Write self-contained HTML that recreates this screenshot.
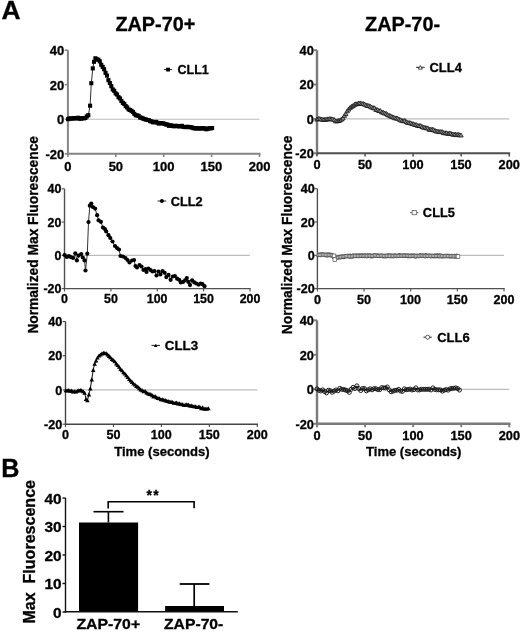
<!DOCTYPE html>
<html><head><meta charset="utf-8"><style>
html,body{margin:0;padding:0;background:#fff;}
body{width:520px;height:633px;overflow:hidden;}
svg{display:block;filter:grayscale(1);}
text{font-family:"Liberation Sans",sans-serif;font-weight:bold;stroke:#000;stroke-width:0.3px;}
</style></head><body>
<svg width="520" height="633" viewBox="0 0 520 633">
<rect width="520" height="633" fill="#fff"/>
<text font-family="Liberation Sans" font-weight="bold" font-size="25.87" transform="translate(1.44,19.00) scale(1.020,1)" fill="#000" >A</text>
<text font-family="Liberation Sans" font-weight="bold" font-size="26.16" transform="translate(1.21,477.10) scale(0.965,1)" fill="#000" >B</text>
<text font-family="Liberation Sans" font-weight="bold" font-size="19.77" transform="translate(115.41,30.81) scale(1.004,1)" fill="#000" >ZAP-70+</text>
<text font-family="Liberation Sans" font-weight="bold" font-size="19.77" transform="translate(365.01,30.81) scale(1.006,1)" fill="#000" >ZAP-70-</text>
<text font-family="Liberation Sans" font-weight="bold" font-size="14.39" transform="translate(37.90,333.62) rotate(-90) scale(0.959,1)">Normalized&#160;Max&#160;Fluorescence</text>
<text font-family="Liberation Sans" font-weight="bold" font-size="14.39" transform="translate(291.50,334.13) rotate(-90) scale(0.963,1)">Normalized&#160;Max&#160;Fluorescence</text>
<text font-family="Liberation Sans" font-weight="bold" font-size="13.20" transform="translate(114.25,456.00) scale(0.989,1)">Time&#160;(seconds)</text>
<text font-family="Liberation Sans" font-weight="bold" font-size="13.20" transform="translate(366.05,456.00) scale(0.989,1)">Time&#160;(seconds)</text>
<line x1="67.90" y1="119.27" x2="259.50" y2="119.27" stroke="#bdbdbd" stroke-width="1.2" stroke-linecap="butt"/>
<line x1="67.90" y1="50.20" x2="67.90" y2="154.80" stroke="#858585" stroke-width="2.0" stroke-linecap="butt"/>
<line x1="66.90" y1="153.80" x2="260.50" y2="153.80" stroke="#858585" stroke-width="2.0" stroke-linecap="butt"/>
<line x1="64.70" y1="50.20" x2="67.90" y2="50.20" stroke="#858585" stroke-width="1.6" stroke-linecap="butt"/>
<text font-family="Liberation Sans" font-weight="bold" font-size="13.00" transform="translate(49.87,54.98) scale(1.000,1)">40</text>
<line x1="64.70" y1="84.73" x2="67.90" y2="84.73" stroke="#858585" stroke-width="1.6" stroke-linecap="butt"/>
<text font-family="Liberation Sans" font-weight="bold" font-size="13.00" transform="translate(49.87,89.51) scale(1.000,1)">20</text>
<line x1="64.70" y1="119.27" x2="67.90" y2="119.27" stroke="#858585" stroke-width="1.6" stroke-linecap="butt"/>
<text font-family="Liberation Sans" font-weight="bold" font-size="13.00" transform="translate(57.10,124.04) scale(1.000,1)">0</text>
<line x1="64.70" y1="153.80" x2="67.90" y2="153.80" stroke="#858585" stroke-width="1.6" stroke-linecap="butt"/>
<text font-family="Liberation Sans" font-weight="bold" font-size="13.00" transform="translate(45.54,158.58) scale(1.000,1)">-20</text>
<line x1="67.90" y1="153.80" x2="67.90" y2="157.00" stroke="#858585" stroke-width="1.6" stroke-linecap="butt"/>
<text font-family="Liberation Sans" font-weight="bold" font-size="13.00" transform="translate(64.29,171.08) scale(1.000,1)">0</text>
<line x1="115.80" y1="153.80" x2="115.80" y2="157.00" stroke="#858585" stroke-width="1.6" stroke-linecap="butt"/>
<text font-family="Liberation Sans" font-weight="bold" font-size="13.00" transform="translate(108.64,171.08) scale(1.000,1)">50</text>
<line x1="163.70" y1="153.80" x2="163.70" y2="157.00" stroke="#858585" stroke-width="1.6" stroke-linecap="butt"/>
<text font-family="Liberation Sans" font-weight="bold" font-size="13.00" transform="translate(152.71,171.08) scale(1.000,1)">100</text>
<line x1="211.60" y1="153.80" x2="211.60" y2="157.00" stroke="#858585" stroke-width="1.6" stroke-linecap="butt"/>
<text font-family="Liberation Sans" font-weight="bold" font-size="13.00" transform="translate(200.61,171.08) scale(1.000,1)">150</text>
<line x1="259.50" y1="153.80" x2="259.50" y2="157.00" stroke="#858585" stroke-width="1.6" stroke-linecap="butt"/>
<text font-family="Liberation Sans" font-weight="bold" font-size="13.00" transform="translate(248.70,171.08) scale(1.000,1)">200</text>
<line x1="64.50" y1="255.33" x2="250.00" y2="255.33" stroke="#bdbdbd" stroke-width="1.2" stroke-linecap="butt"/>
<line x1="64.50" y1="188.80" x2="64.50" y2="289.30" stroke="#505050" stroke-width="1.4" stroke-linecap="butt"/>
<line x1="63.80" y1="288.60" x2="250.70" y2="288.60" stroke="#505050" stroke-width="1.4" stroke-linecap="butt"/>
<line x1="61.60" y1="188.80" x2="64.50" y2="188.80" stroke="#505050" stroke-width="1.1199999999999999" stroke-linecap="butt"/>
<text font-family="Liberation Sans" font-weight="bold" font-size="12.40" transform="translate(47.52,193.37) scale(1.000,1)">40</text>
<line x1="61.60" y1="222.07" x2="64.50" y2="222.07" stroke="#505050" stroke-width="1.1199999999999999" stroke-linecap="butt"/>
<text font-family="Liberation Sans" font-weight="bold" font-size="12.40" transform="translate(47.52,226.64) scale(1.000,1)">20</text>
<line x1="61.60" y1="255.33" x2="64.50" y2="255.33" stroke="#505050" stroke-width="1.1199999999999999" stroke-linecap="butt"/>
<text font-family="Liberation Sans" font-weight="bold" font-size="12.40" transform="translate(54.41,259.90) scale(1.000,1)">0</text>
<line x1="61.60" y1="288.60" x2="64.50" y2="288.60" stroke="#505050" stroke-width="1.1199999999999999" stroke-linecap="butt"/>
<text font-family="Liberation Sans" font-weight="bold" font-size="12.40" transform="translate(43.39,293.17) scale(1.000,1)">-20</text>
<line x1="64.50" y1="288.60" x2="64.50" y2="291.50" stroke="#505050" stroke-width="1.1199999999999999" stroke-linecap="butt"/>
<text font-family="Liberation Sans" font-weight="bold" font-size="12.40" transform="translate(61.06,303.36) scale(1.000,1)">0</text>
<line x1="110.88" y1="288.60" x2="110.88" y2="291.50" stroke="#505050" stroke-width="1.1199999999999999" stroke-linecap="butt"/>
<text font-family="Liberation Sans" font-weight="bold" font-size="12.40" transform="translate(104.04,303.36) scale(1.000,1)">50</text>
<line x1="157.25" y1="288.60" x2="157.25" y2="291.50" stroke="#505050" stroke-width="1.1199999999999999" stroke-linecap="butt"/>
<text font-family="Liberation Sans" font-weight="bold" font-size="12.40" transform="translate(146.77,303.36) scale(1.000,1)">100</text>
<line x1="203.62" y1="288.60" x2="203.62" y2="291.50" stroke="#505050" stroke-width="1.1199999999999999" stroke-linecap="butt"/>
<text font-family="Liberation Sans" font-weight="bold" font-size="12.40" transform="translate(193.14,303.36) scale(1.000,1)">150</text>
<line x1="250.00" y1="288.60" x2="250.00" y2="291.50" stroke="#505050" stroke-width="1.1199999999999999" stroke-linecap="butt"/>
<text font-family="Liberation Sans" font-weight="bold" font-size="12.40" transform="translate(239.69,303.36) scale(1.000,1)">200</text>
<line x1="65.50" y1="389.97" x2="257.30" y2="389.97" stroke="#bdbdbd" stroke-width="1.2" stroke-linecap="butt"/>
<line x1="65.50" y1="321.50" x2="65.50" y2="424.90" stroke="#454545" stroke-width="1.4" stroke-linecap="butt"/>
<line x1="64.80" y1="424.20" x2="258.00" y2="424.20" stroke="#454545" stroke-width="1.4" stroke-linecap="butt"/>
<line x1="62.60" y1="321.50" x2="65.50" y2="321.50" stroke="#454545" stroke-width="1.1199999999999999" stroke-linecap="butt"/>
<text font-family="Liberation Sans" font-weight="bold" font-size="12.60" transform="translate(48.20,326.14) scale(1.000,1)">40</text>
<line x1="62.60" y1="355.73" x2="65.50" y2="355.73" stroke="#454545" stroke-width="1.1199999999999999" stroke-linecap="butt"/>
<text font-family="Liberation Sans" font-weight="bold" font-size="12.60" transform="translate(48.20,360.37) scale(1.000,1)">20</text>
<line x1="62.60" y1="389.97" x2="65.50" y2="389.97" stroke="#454545" stroke-width="1.1199999999999999" stroke-linecap="butt"/>
<text font-family="Liberation Sans" font-weight="bold" font-size="12.60" transform="translate(55.21,394.60) scale(1.000,1)">0</text>
<line x1="62.60" y1="424.20" x2="65.50" y2="424.20" stroke="#454545" stroke-width="1.1199999999999999" stroke-linecap="butt"/>
<text font-family="Liberation Sans" font-weight="bold" font-size="12.60" transform="translate(44.01,428.84) scale(1.000,1)">-20</text>
<line x1="65.50" y1="424.20" x2="65.50" y2="427.10" stroke="#454545" stroke-width="1.1199999999999999" stroke-linecap="butt"/>
<text font-family="Liberation Sans" font-weight="bold" font-size="12.60" transform="translate(62.01,439.40) scale(1.000,1)">0</text>
<line x1="113.45" y1="424.20" x2="113.45" y2="427.10" stroke="#454545" stroke-width="1.1199999999999999" stroke-linecap="butt"/>
<text font-family="Liberation Sans" font-weight="bold" font-size="12.60" transform="translate(106.51,439.40) scale(1.000,1)">50</text>
<line x1="161.40" y1="424.20" x2="161.40" y2="427.10" stroke="#454545" stroke-width="1.1199999999999999" stroke-linecap="butt"/>
<text font-family="Liberation Sans" font-weight="bold" font-size="12.60" transform="translate(150.75,439.40) scale(1.000,1)">100</text>
<line x1="209.35" y1="424.20" x2="209.35" y2="427.10" stroke="#454545" stroke-width="1.1199999999999999" stroke-linecap="butt"/>
<text font-family="Liberation Sans" font-weight="bold" font-size="12.60" transform="translate(198.70,439.40) scale(1.000,1)">150</text>
<line x1="257.30" y1="424.20" x2="257.30" y2="427.10" stroke="#454545" stroke-width="1.1199999999999999" stroke-linecap="butt"/>
<text font-family="Liberation Sans" font-weight="bold" font-size="12.60" transform="translate(246.83,439.40) scale(1.000,1)">200</text>
<line x1="317.00" y1="118.93" x2="509.20" y2="118.93" stroke="#bdbdbd" stroke-width="1.2" stroke-linecap="butt"/>
<line x1="317.00" y1="50.20" x2="317.00" y2="154.50" stroke="#7a7a7a" stroke-width="2.4" stroke-linecap="butt"/>
<line x1="315.80" y1="153.30" x2="510.15" y2="153.30" stroke="#4e4e4e" stroke-width="1.9" stroke-linecap="butt"/>
<line x1="313.60" y1="50.20" x2="317.00" y2="50.20" stroke="#7a7a7a" stroke-width="1.92" stroke-linecap="butt"/>
<text font-family="Liberation Sans" font-weight="bold" font-size="12.80" transform="translate(299.59,54.91) scale(1.000,1)">40</text>
<line x1="313.60" y1="84.57" x2="317.00" y2="84.57" stroke="#7a7a7a" stroke-width="1.92" stroke-linecap="butt"/>
<text font-family="Liberation Sans" font-weight="bold" font-size="12.80" transform="translate(299.59,89.27) scale(1.000,1)">20</text>
<line x1="313.60" y1="118.93" x2="317.00" y2="118.93" stroke="#7a7a7a" stroke-width="1.92" stroke-linecap="butt"/>
<text font-family="Liberation Sans" font-weight="bold" font-size="12.80" transform="translate(306.71,123.64) scale(1.000,1)">0</text>
<line x1="313.60" y1="153.30" x2="317.00" y2="153.30" stroke="#7a7a7a" stroke-width="1.92" stroke-linecap="butt"/>
<text font-family="Liberation Sans" font-weight="bold" font-size="12.80" transform="translate(295.32,158.01) scale(1.000,1)">-20</text>
<line x1="317.00" y1="153.30" x2="317.00" y2="156.45" stroke="#4e4e4e" stroke-width="1.52" stroke-linecap="butt"/>
<text font-family="Liberation Sans" font-weight="bold" font-size="12.80" transform="translate(313.45,168.94) scale(1.000,1)">0</text>
<line x1="365.05" y1="153.30" x2="365.05" y2="156.45" stroke="#4e4e4e" stroke-width="1.52" stroke-linecap="butt"/>
<text font-family="Liberation Sans" font-weight="bold" font-size="12.80" transform="translate(358.00,168.94) scale(1.000,1)">50</text>
<line x1="413.10" y1="153.30" x2="413.10" y2="156.45" stroke="#4e4e4e" stroke-width="1.52" stroke-linecap="butt"/>
<text font-family="Liberation Sans" font-weight="bold" font-size="12.80" transform="translate(402.28,168.94) scale(1.000,1)">100</text>
<line x1="461.15" y1="153.30" x2="461.15" y2="156.45" stroke="#4e4e4e" stroke-width="1.52" stroke-linecap="butt"/>
<text font-family="Liberation Sans" font-weight="bold" font-size="12.80" transform="translate(450.33,168.94) scale(1.000,1)">150</text>
<line x1="509.20" y1="153.30" x2="509.20" y2="156.45" stroke="#4e4e4e" stroke-width="1.52" stroke-linecap="butt"/>
<text font-family="Liberation Sans" font-weight="bold" font-size="12.80" transform="translate(498.56,168.94) scale(1.000,1)">200</text>
<line x1="317.40" y1="255.30" x2="504.00" y2="255.30" stroke="#bdbdbd" stroke-width="1.2" stroke-linecap="butt"/>
<line x1="317.40" y1="188.70" x2="317.40" y2="289.30" stroke="#505050" stroke-width="1.4" stroke-linecap="butt"/>
<line x1="316.70" y1="288.60" x2="504.70" y2="288.60" stroke="#505050" stroke-width="1.4" stroke-linecap="butt"/>
<line x1="314.50" y1="188.70" x2="317.40" y2="188.70" stroke="#505050" stroke-width="1.1199999999999999" stroke-linecap="butt"/>
<text font-family="Liberation Sans" font-weight="bold" font-size="12.60" transform="translate(300.70,193.34) scale(1.000,1)">40</text>
<line x1="314.50" y1="222.00" x2="317.40" y2="222.00" stroke="#505050" stroke-width="1.1199999999999999" stroke-linecap="butt"/>
<text font-family="Liberation Sans" font-weight="bold" font-size="12.60" transform="translate(300.70,226.64) scale(1.000,1)">20</text>
<line x1="314.50" y1="255.30" x2="317.40" y2="255.30" stroke="#505050" stroke-width="1.1199999999999999" stroke-linecap="butt"/>
<text font-family="Liberation Sans" font-weight="bold" font-size="12.60" transform="translate(307.71,259.94) scale(1.000,1)">0</text>
<line x1="314.50" y1="288.60" x2="317.40" y2="288.60" stroke="#505050" stroke-width="1.1199999999999999" stroke-linecap="butt"/>
<text font-family="Liberation Sans" font-weight="bold" font-size="12.60" transform="translate(296.51,293.24) scale(1.000,1)">-20</text>
<line x1="317.40" y1="288.60" x2="317.40" y2="291.50" stroke="#505050" stroke-width="1.1199999999999999" stroke-linecap="butt"/>
<text font-family="Liberation Sans" font-weight="bold" font-size="12.60" transform="translate(313.91,303.60) scale(1.000,1)">0</text>
<line x1="364.05" y1="288.60" x2="364.05" y2="291.50" stroke="#505050" stroke-width="1.1199999999999999" stroke-linecap="butt"/>
<text font-family="Liberation Sans" font-weight="bold" font-size="12.60" transform="translate(357.11,303.60) scale(1.000,1)">50</text>
<line x1="410.70" y1="288.60" x2="410.70" y2="291.50" stroke="#505050" stroke-width="1.1199999999999999" stroke-linecap="butt"/>
<text font-family="Liberation Sans" font-weight="bold" font-size="12.60" transform="translate(400.05,303.60) scale(1.000,1)">100</text>
<line x1="457.35" y1="288.60" x2="457.35" y2="291.50" stroke="#505050" stroke-width="1.1199999999999999" stroke-linecap="butt"/>
<text font-family="Liberation Sans" font-weight="bold" font-size="12.60" transform="translate(446.70,303.60) scale(1.000,1)">150</text>
<line x1="504.00" y1="288.60" x2="504.00" y2="291.50" stroke="#505050" stroke-width="1.1199999999999999" stroke-linecap="butt"/>
<text font-family="Liberation Sans" font-weight="bold" font-size="12.60" transform="translate(493.53,303.60) scale(1.000,1)">200</text>
<line x1="317.00" y1="389.30" x2="509.30" y2="389.30" stroke="#bdbdbd" stroke-width="1.2" stroke-linecap="butt"/>
<line x1="317.00" y1="320.30" x2="317.00" y2="425.00" stroke="#7a7a7a" stroke-width="2.4" stroke-linecap="butt"/>
<line x1="315.80" y1="423.80" x2="510.50" y2="423.80" stroke="#7a7a7a" stroke-width="2.4" stroke-linecap="butt"/>
<line x1="313.60" y1="320.30" x2="317.00" y2="320.30" stroke="#7a7a7a" stroke-width="1.92" stroke-linecap="butt"/>
<text font-family="Liberation Sans" font-weight="bold" font-size="12.80" transform="translate(299.69,325.01) scale(1.000,1)">40</text>
<line x1="313.60" y1="354.80" x2="317.00" y2="354.80" stroke="#7a7a7a" stroke-width="1.92" stroke-linecap="butt"/>
<text font-family="Liberation Sans" font-weight="bold" font-size="12.80" transform="translate(299.69,359.51) scale(1.000,1)">20</text>
<line x1="313.60" y1="389.30" x2="317.00" y2="389.30" stroke="#7a7a7a" stroke-width="1.92" stroke-linecap="butt"/>
<text font-family="Liberation Sans" font-weight="bold" font-size="12.80" transform="translate(306.81,394.01) scale(1.000,1)">0</text>
<line x1="313.60" y1="423.80" x2="317.00" y2="423.80" stroke="#7a7a7a" stroke-width="1.92" stroke-linecap="butt"/>
<text font-family="Liberation Sans" font-weight="bold" font-size="12.80" transform="translate(295.42,428.51) scale(1.000,1)">-20</text>
<line x1="317.00" y1="423.80" x2="317.00" y2="427.20" stroke="#7a7a7a" stroke-width="1.92" stroke-linecap="butt"/>
<text font-family="Liberation Sans" font-weight="bold" font-size="12.80" transform="translate(313.45,439.54) scale(1.000,1)">0</text>
<line x1="365.07" y1="423.80" x2="365.07" y2="427.20" stroke="#7a7a7a" stroke-width="1.92" stroke-linecap="butt"/>
<text font-family="Liberation Sans" font-weight="bold" font-size="12.80" transform="translate(358.02,439.54) scale(1.000,1)">50</text>
<line x1="413.15" y1="423.80" x2="413.15" y2="427.20" stroke="#7a7a7a" stroke-width="1.92" stroke-linecap="butt"/>
<text font-family="Liberation Sans" font-weight="bold" font-size="12.80" transform="translate(402.33,439.54) scale(1.000,1)">100</text>
<line x1="461.23" y1="423.80" x2="461.23" y2="427.20" stroke="#7a7a7a" stroke-width="1.92" stroke-linecap="butt"/>
<text font-family="Liberation Sans" font-weight="bold" font-size="12.80" transform="translate(450.41,439.54) scale(1.000,1)">150</text>
<line x1="509.30" y1="423.80" x2="509.30" y2="427.20" stroke="#7a7a7a" stroke-width="1.92" stroke-linecap="butt"/>
<text font-family="Liberation Sans" font-weight="bold" font-size="12.80" transform="translate(498.66,439.54) scale(1.000,1)">200</text>
<polyline points="68.10,119.19 69.54,118.38 70.98,118.50 72.42,118.58 73.86,118.10 75.30,118.33 76.74,118.31 78.18,117.71 79.62,118.70 81.06,118.57 82.50,118.16 83.94,118.33 85.38,117.97 86.82,116.42 88.30,115.20 90.10,105.70 91.30,83.20 92.80,68.40 94.00,61.80 95.40,58.30 96.90,59.38 98.34,59.71 99.78,61.30 101.22,64.75 102.66,66.90 104.10,69.20 105.54,72.85 106.98,75.62 108.42,80.21 109.86,83.05 111.30,86.21 112.74,89.42 114.18,90.80 115.62,93.38 117.06,94.52 118.50,97.17 119.94,98.42 121.38,100.92 122.82,102.84 124.26,103.91 125.70,106.11 127.14,107.43 128.58,109.38 130.02,110.00 131.46,110.79 132.90,111.95 134.34,113.82 135.78,115.28 137.22,115.38 138.66,115.91 140.10,117.56 141.54,117.77 142.98,118.52 144.42,119.10 145.86,119.49 147.30,119.96 148.74,120.07 150.18,121.19 151.62,121.42 153.06,122.31 154.50,122.19 155.94,121.87 157.38,122.72 158.82,123.56 160.26,123.05 161.70,123.17 163.14,123.42 164.58,123.84 166.02,124.47 167.46,124.52 168.90,125.82 170.34,125.30 171.78,125.54 173.22,126.11 174.66,126.23 176.10,125.74 177.54,126.08 178.98,126.38 180.42,126.22 181.86,125.82 183.30,126.83 184.74,127.06 186.18,127.05 187.62,126.73 189.06,127.13 190.50,127.15 191.94,127.42 193.38,128.15 194.82,128.40 196.26,128.27 197.70,128.39 199.14,128.50 200.58,128.31 202.02,128.35 203.46,128.20 204.90,128.48 206.34,129.27 207.78,128.76 209.22,128.32 210.66,128.25 212.10,128.07" fill="none" stroke="#333" stroke-width="1.0" stroke-linejoin="round"/>
<g fill="#000" stroke="none" stroke-width="0"><rect x="66.05" y="117.14" width="4.10" height="4.10"/><rect x="67.49" y="116.33" width="4.10" height="4.10"/><rect x="68.93" y="116.45" width="4.10" height="4.10"/><rect x="70.37" y="116.53" width="4.10" height="4.10"/><rect x="71.81" y="116.05" width="4.10" height="4.10"/><rect x="73.25" y="116.28" width="4.10" height="4.10"/><rect x="74.69" y="116.26" width="4.10" height="4.10"/><rect x="76.13" y="115.66" width="4.10" height="4.10"/><rect x="77.57" y="116.65" width="4.10" height="4.10"/><rect x="79.01" y="116.52" width="4.10" height="4.10"/><rect x="80.45" y="116.11" width="4.10" height="4.10"/><rect x="81.89" y="116.28" width="4.10" height="4.10"/><rect x="83.33" y="115.92" width="4.10" height="4.10"/><rect x="84.77" y="114.37" width="4.10" height="4.10"/><rect x="86.25" y="113.15" width="4.10" height="4.10"/><rect x="88.05" y="103.65" width="4.10" height="4.10"/><rect x="89.25" y="81.15" width="4.10" height="4.10"/><rect x="90.75" y="66.35" width="4.10" height="4.10"/><rect x="91.95" y="59.75" width="4.10" height="4.10"/><rect x="93.35" y="56.25" width="4.10" height="4.10"/><rect x="94.85" y="57.33" width="4.10" height="4.10"/><rect x="96.29" y="57.66" width="4.10" height="4.10"/><rect x="97.73" y="59.25" width="4.10" height="4.10"/><rect x="99.17" y="62.70" width="4.10" height="4.10"/><rect x="100.61" y="64.85" width="4.10" height="4.10"/><rect x="102.05" y="67.15" width="4.10" height="4.10"/><rect x="103.49" y="70.80" width="4.10" height="4.10"/><rect x="104.93" y="73.57" width="4.10" height="4.10"/><rect x="106.37" y="78.16" width="4.10" height="4.10"/><rect x="107.81" y="81.00" width="4.10" height="4.10"/><rect x="109.25" y="84.16" width="4.10" height="4.10"/><rect x="110.69" y="87.37" width="4.10" height="4.10"/><rect x="112.13" y="88.75" width="4.10" height="4.10"/><rect x="113.57" y="91.33" width="4.10" height="4.10"/><rect x="115.01" y="92.47" width="4.10" height="4.10"/><rect x="116.45" y="95.12" width="4.10" height="4.10"/><rect x="117.89" y="96.37" width="4.10" height="4.10"/><rect x="119.33" y="98.87" width="4.10" height="4.10"/><rect x="120.77" y="100.79" width="4.10" height="4.10"/><rect x="122.21" y="101.86" width="4.10" height="4.10"/><rect x="123.65" y="104.06" width="4.10" height="4.10"/><rect x="125.09" y="105.38" width="4.10" height="4.10"/><rect x="126.53" y="107.33" width="4.10" height="4.10"/><rect x="127.97" y="107.95" width="4.10" height="4.10"/><rect x="129.41" y="108.74" width="4.10" height="4.10"/><rect x="130.85" y="109.90" width="4.10" height="4.10"/><rect x="132.29" y="111.77" width="4.10" height="4.10"/><rect x="133.73" y="113.23" width="4.10" height="4.10"/><rect x="135.17" y="113.33" width="4.10" height="4.10"/><rect x="136.61" y="113.86" width="4.10" height="4.10"/><rect x="138.05" y="115.51" width="4.10" height="4.10"/><rect x="139.49" y="115.72" width="4.10" height="4.10"/><rect x="140.93" y="116.47" width="4.10" height="4.10"/><rect x="142.37" y="117.05" width="4.10" height="4.10"/><rect x="143.81" y="117.44" width="4.10" height="4.10"/><rect x="145.25" y="117.91" width="4.10" height="4.10"/><rect x="146.69" y="118.02" width="4.10" height="4.10"/><rect x="148.13" y="119.14" width="4.10" height="4.10"/><rect x="149.57" y="119.37" width="4.10" height="4.10"/><rect x="151.01" y="120.26" width="4.10" height="4.10"/><rect x="152.45" y="120.14" width="4.10" height="4.10"/><rect x="153.89" y="119.82" width="4.10" height="4.10"/><rect x="155.33" y="120.67" width="4.10" height="4.10"/><rect x="156.77" y="121.51" width="4.10" height="4.10"/><rect x="158.21" y="121.00" width="4.10" height="4.10"/><rect x="159.65" y="121.12" width="4.10" height="4.10"/><rect x="161.09" y="121.37" width="4.10" height="4.10"/><rect x="162.53" y="121.79" width="4.10" height="4.10"/><rect x="163.97" y="122.42" width="4.10" height="4.10"/><rect x="165.41" y="122.47" width="4.10" height="4.10"/><rect x="166.85" y="123.77" width="4.10" height="4.10"/><rect x="168.29" y="123.25" width="4.10" height="4.10"/><rect x="169.73" y="123.49" width="4.10" height="4.10"/><rect x="171.17" y="124.06" width="4.10" height="4.10"/><rect x="172.61" y="124.18" width="4.10" height="4.10"/><rect x="174.05" y="123.69" width="4.10" height="4.10"/><rect x="175.49" y="124.03" width="4.10" height="4.10"/><rect x="176.93" y="124.33" width="4.10" height="4.10"/><rect x="178.37" y="124.17" width="4.10" height="4.10"/><rect x="179.81" y="123.77" width="4.10" height="4.10"/><rect x="181.25" y="124.78" width="4.10" height="4.10"/><rect x="182.69" y="125.01" width="4.10" height="4.10"/><rect x="184.13" y="125.00" width="4.10" height="4.10"/><rect x="185.57" y="124.68" width="4.10" height="4.10"/><rect x="187.01" y="125.08" width="4.10" height="4.10"/><rect x="188.45" y="125.10" width="4.10" height="4.10"/><rect x="189.89" y="125.37" width="4.10" height="4.10"/><rect x="191.33" y="126.10" width="4.10" height="4.10"/><rect x="192.77" y="126.35" width="4.10" height="4.10"/><rect x="194.21" y="126.22" width="4.10" height="4.10"/><rect x="195.65" y="126.34" width="4.10" height="4.10"/><rect x="197.09" y="126.45" width="4.10" height="4.10"/><rect x="198.53" y="126.26" width="4.10" height="4.10"/><rect x="199.97" y="126.30" width="4.10" height="4.10"/><rect x="201.41" y="126.15" width="4.10" height="4.10"/><rect x="202.85" y="126.43" width="4.10" height="4.10"/><rect x="204.29" y="127.22" width="4.10" height="4.10"/><rect x="205.73" y="126.71" width="4.10" height="4.10"/><rect x="207.17" y="126.27" width="4.10" height="4.10"/><rect x="208.61" y="126.20" width="4.10" height="4.10"/><rect x="210.05" y="126.02" width="4.10" height="4.10"/></g>
<polyline points="64.60,255.00 66.80,256.90 68.90,256.20 70.80,257.10 73.10,257.90 75.30,253.30 76.90,260.40 78.70,255.60 81.20,254.10 82.80,257.50 84.50,260.40 85.50,270.50 87.30,253.70 88.50,222.10 89.80,205.70 91.30,203.60 92.90,207.00 95.10,208.60 97.10,215.20 98.60,220.30 100.90,221.80 103.00,227.60 104.90,229.10 106.20,231.40 108.50,235.20 110.30,238.00 112.50,241.50 115.00,246.00 117.00,248.00 119.00,249.50 120.50,256.00 123.00,256.50 125.50,258.00 127.50,260.00 129.50,262.50 132.00,260.50 134.00,260.00 135.50,266.00 137.00,267.50 139.50,265.00 141.50,266.50 143.50,270.00 145.50,269.00 146.50,272.00 148.50,268.50 150.50,270.00 152.50,271.50 154.50,271.00 156.50,275.50 158.50,271.50 160.40,274.40 162.50,271.10 164.70,272.80 166.30,277.10 168.50,274.90 170.60,279.80 172.80,276.50 174.90,276.00 177.10,278.70 179.20,279.80 180.80,282.40 183.00,281.90 185.10,280.30 186.80,278.10 188.40,281.90 190.00,285.10 192.10,280.30 194.30,282.40 196.40,283.50 198.60,284.60 200.70,283.50 202.40,284.10 204.50,286.20" fill="none" stroke="#333" stroke-width="1.0" stroke-linejoin="round"/>
<g fill="#000" stroke="none" stroke-width="0"><circle cx="64.60" cy="255.00" r="2.10"/><circle cx="66.80" cy="256.90" r="2.10"/><circle cx="68.90" cy="256.20" r="2.10"/><circle cx="70.80" cy="257.10" r="2.10"/><circle cx="73.10" cy="257.90" r="2.10"/><circle cx="75.30" cy="253.30" r="2.10"/><circle cx="76.90" cy="260.40" r="2.10"/><circle cx="78.70" cy="255.60" r="2.10"/><circle cx="81.20" cy="254.10" r="2.10"/><circle cx="82.80" cy="257.50" r="2.10"/><circle cx="84.50" cy="260.40" r="2.10"/><circle cx="85.50" cy="270.50" r="2.10"/><circle cx="87.30" cy="253.70" r="2.10"/><circle cx="88.50" cy="222.10" r="2.10"/><circle cx="89.80" cy="205.70" r="2.10"/><circle cx="91.30" cy="203.60" r="2.10"/><circle cx="92.90" cy="207.00" r="2.10"/><circle cx="95.10" cy="208.60" r="2.10"/><circle cx="97.10" cy="215.20" r="2.10"/><circle cx="98.60" cy="220.30" r="2.10"/><circle cx="100.90" cy="221.80" r="2.10"/><circle cx="103.00" cy="227.60" r="2.10"/><circle cx="104.90" cy="229.10" r="2.10"/><circle cx="106.20" cy="231.40" r="2.10"/><circle cx="108.50" cy="235.20" r="2.10"/><circle cx="110.30" cy="238.00" r="2.10"/><circle cx="112.50" cy="241.50" r="2.10"/><circle cx="115.00" cy="246.00" r="2.10"/><circle cx="117.00" cy="248.00" r="2.10"/><circle cx="119.00" cy="249.50" r="2.10"/><circle cx="120.50" cy="256.00" r="2.10"/><circle cx="123.00" cy="256.50" r="2.10"/><circle cx="125.50" cy="258.00" r="2.10"/><circle cx="127.50" cy="260.00" r="2.10"/><circle cx="129.50" cy="262.50" r="2.10"/><circle cx="132.00" cy="260.50" r="2.10"/><circle cx="134.00" cy="260.00" r="2.10"/><circle cx="135.50" cy="266.00" r="2.10"/><circle cx="137.00" cy="267.50" r="2.10"/><circle cx="139.50" cy="265.00" r="2.10"/><circle cx="141.50" cy="266.50" r="2.10"/><circle cx="143.50" cy="270.00" r="2.10"/><circle cx="145.50" cy="269.00" r="2.10"/><circle cx="146.50" cy="272.00" r="2.10"/><circle cx="148.50" cy="268.50" r="2.10"/><circle cx="150.50" cy="270.00" r="2.10"/><circle cx="152.50" cy="271.50" r="2.10"/><circle cx="154.50" cy="271.00" r="2.10"/><circle cx="156.50" cy="275.50" r="2.10"/><circle cx="158.50" cy="271.50" r="2.10"/><circle cx="160.40" cy="274.40" r="2.10"/><circle cx="162.50" cy="271.10" r="2.10"/><circle cx="164.70" cy="272.80" r="2.10"/><circle cx="166.30" cy="277.10" r="2.10"/><circle cx="168.50" cy="274.90" r="2.10"/><circle cx="170.60" cy="279.80" r="2.10"/><circle cx="172.80" cy="276.50" r="2.10"/><circle cx="174.90" cy="276.00" r="2.10"/><circle cx="177.10" cy="278.70" r="2.10"/><circle cx="179.20" cy="279.80" r="2.10"/><circle cx="180.80" cy="282.40" r="2.10"/><circle cx="183.00" cy="281.90" r="2.10"/><circle cx="185.10" cy="280.30" r="2.10"/><circle cx="186.80" cy="278.10" r="2.10"/><circle cx="188.40" cy="281.90" r="2.10"/><circle cx="190.00" cy="285.10" r="2.10"/><circle cx="192.10" cy="280.30" r="2.10"/><circle cx="194.30" cy="282.40" r="2.10"/><circle cx="196.40" cy="283.50" r="2.10"/><circle cx="198.60" cy="284.60" r="2.10"/><circle cx="200.70" cy="283.50" r="2.10"/><circle cx="202.40" cy="284.10" r="2.10"/><circle cx="204.50" cy="286.20" r="2.10"/></g>
<polyline points="65.86,390.34 67.30,390.48 68.74,390.06 70.18,390.77 71.62,390.62 73.06,391.40 74.50,391.19 75.94,391.55 77.38,390.65 78.82,390.34 80.26,390.09 81.70,390.36 83.14,391.32 84.58,392.70 86.02,398.99 87.46,400.31 88.90,394.37 90.34,388.35 91.78,379.36 93.22,369.87 94.66,363.66 96.10,360.57 97.54,357.60 98.98,355.60 100.42,354.41 101.86,353.45 103.30,352.81 104.74,352.99 106.18,353.32 107.62,354.38 109.06,355.85 110.50,357.24 111.94,358.90 113.38,359.96 114.82,361.32 116.26,363.59 117.70,365.01 119.14,366.76 120.58,369.09 122.02,370.21 123.46,372.15 124.90,373.52 126.34,375.16 127.78,376.95 129.22,378.99 130.66,380.58 132.10,381.85 133.54,383.46 134.98,384.42 136.42,386.04 137.86,386.65 139.30,388.28 140.74,389.37 142.18,390.26 143.62,391.21 145.06,391.00 146.50,392.46 147.94,393.33 149.38,393.97 150.82,394.11 152.26,395.22 153.70,396.36 155.14,396.03 156.58,397.26 158.02,398.08 159.46,398.17 160.90,399.19 162.34,399.27 163.78,399.73 165.22,400.11 166.66,400.80 168.10,401.10 169.54,401.79 170.98,401.51 172.42,402.04 173.86,402.66 175.30,402.83 176.74,402.55 178.18,403.44 179.62,403.38 181.06,403.93 182.50,404.19 183.94,404.75 185.38,404.66 186.82,404.28 188.26,404.64 189.70,405.48 191.14,405.40 192.58,406.08 194.02,406.15 195.46,406.18 196.90,407.07 198.34,406.83 199.78,406.75 201.22,408.29 202.66,407.39 204.10,408.42 205.54,408.67 206.98,408.59 208.42,408.20" fill="none" stroke="#222" stroke-width="1.1" stroke-linejoin="round"/>
<g fill="#000" stroke="none" stroke-width="0"><path d="M63.61,392.37L65.86,388.32L68.11,392.37Z"/><path d="M65.05,392.50L67.30,388.45L69.55,392.50Z"/><path d="M66.49,392.08L68.74,388.03L70.99,392.08Z"/><path d="M67.93,392.79L70.18,388.74L72.43,392.79Z"/><path d="M69.37,392.65L71.62,388.60L73.87,392.65Z"/><path d="M70.81,393.42L73.06,389.37L75.31,393.42Z"/><path d="M72.25,393.21L74.50,389.16L76.75,393.21Z"/><path d="M73.69,393.58L75.94,389.53L78.19,393.58Z"/><path d="M75.13,392.68L77.38,388.63L79.63,392.68Z"/><path d="M76.57,392.36L78.82,388.31L81.07,392.36Z"/><path d="M78.01,392.11L80.26,388.06L82.51,392.11Z"/><path d="M79.45,392.39L81.70,388.34L83.95,392.39Z"/><path d="M80.89,393.35L83.14,389.30L85.39,393.35Z"/><path d="M82.33,394.73L84.58,390.68L86.83,394.73Z"/><path d="M83.77,401.02L86.02,396.97L88.27,401.02Z"/><path d="M85.21,402.33L87.46,398.28L89.71,402.33Z"/><path d="M86.65,396.40L88.90,392.35L91.15,396.40Z"/><path d="M88.09,390.38L90.34,386.33L92.59,390.38Z"/><path d="M89.53,381.39L91.78,377.34L94.03,381.39Z"/><path d="M90.97,371.90L93.22,367.85L95.47,371.90Z"/><path d="M92.41,365.69L94.66,361.64L96.91,365.69Z"/><path d="M93.85,362.60L96.10,358.55L98.35,362.60Z"/><path d="M95.29,359.62L97.54,355.57L99.79,359.62Z"/><path d="M96.73,357.62L98.98,353.57L101.23,357.62Z"/><path d="M98.17,356.44L100.42,352.39L102.67,356.44Z"/><path d="M99.61,355.48L101.86,351.43L104.11,355.48Z"/><path d="M101.05,354.83L103.30,350.78L105.55,354.83Z"/><path d="M102.49,355.01L104.74,350.96L106.99,355.01Z"/><path d="M103.93,355.35L106.18,351.30L108.43,355.35Z"/><path d="M105.37,356.40L107.62,352.35L109.87,356.40Z"/><path d="M106.81,357.88L109.06,353.83L111.31,357.88Z"/><path d="M108.25,359.27L110.50,355.22L112.75,359.27Z"/><path d="M109.69,360.93L111.94,356.88L114.19,360.93Z"/><path d="M111.13,361.98L113.38,357.93L115.63,361.98Z"/><path d="M112.57,363.34L114.82,359.29L117.07,363.34Z"/><path d="M114.01,365.62L116.26,361.57L118.51,365.62Z"/><path d="M115.45,367.03L117.70,362.98L119.95,367.03Z"/><path d="M116.89,368.79L119.14,364.74L121.39,368.79Z"/><path d="M118.33,371.12L120.58,367.07L122.83,371.12Z"/><path d="M119.77,372.23L122.02,368.18L124.27,372.23Z"/><path d="M121.21,374.18L123.46,370.13L125.71,374.18Z"/><path d="M122.65,375.55L124.90,371.50L127.15,375.55Z"/><path d="M124.09,377.19L126.34,373.14L128.59,377.19Z"/><path d="M125.53,378.97L127.78,374.92L130.03,378.97Z"/><path d="M126.97,381.02L129.22,376.97L131.47,381.02Z"/><path d="M128.41,382.60L130.66,378.55L132.91,382.60Z"/><path d="M129.85,383.88L132.10,379.83L134.35,383.88Z"/><path d="M131.29,385.48L133.54,381.43L135.79,385.48Z"/><path d="M132.73,386.45L134.98,382.40L137.23,386.45Z"/><path d="M134.17,388.07L136.42,384.02L138.67,388.07Z"/><path d="M135.61,388.67L137.86,384.62L140.11,388.67Z"/><path d="M137.05,390.31L139.30,386.26L141.55,390.31Z"/><path d="M138.49,391.40L140.74,387.35L142.99,391.40Z"/><path d="M139.93,392.28L142.18,388.23L144.43,392.28Z"/><path d="M141.37,393.24L143.62,389.19L145.87,393.24Z"/><path d="M142.81,393.02L145.06,388.97L147.31,393.02Z"/><path d="M144.25,394.49L146.50,390.44L148.75,394.49Z"/><path d="M145.69,395.35L147.94,391.30L150.19,395.35Z"/><path d="M147.13,395.99L149.38,391.94L151.63,395.99Z"/><path d="M148.57,396.13L150.82,392.08L153.07,396.13Z"/><path d="M150.01,397.24L152.26,393.19L154.51,397.24Z"/><path d="M151.45,398.39L153.70,394.34L155.95,398.39Z"/><path d="M152.89,398.06L155.14,394.01L157.39,398.06Z"/><path d="M154.33,399.28L156.58,395.23L158.83,399.28Z"/><path d="M155.77,400.11L158.02,396.06L160.27,400.11Z"/><path d="M157.21,400.20L159.46,396.15L161.71,400.20Z"/><path d="M158.65,401.22L160.90,397.17L163.15,401.22Z"/><path d="M160.09,401.29L162.34,397.24L164.59,401.29Z"/><path d="M161.53,401.76L163.78,397.71L166.03,401.76Z"/><path d="M162.97,402.14L165.22,398.09L167.47,402.14Z"/><path d="M164.41,402.83L166.66,398.78L168.91,402.83Z"/><path d="M165.85,403.12L168.10,399.07L170.35,403.12Z"/><path d="M167.29,403.82L169.54,399.77L171.79,403.82Z"/><path d="M168.73,403.54L170.98,399.49L173.23,403.54Z"/><path d="M170.17,404.07L172.42,400.02L174.67,404.07Z"/><path d="M171.61,404.69L173.86,400.64L176.11,404.69Z"/><path d="M173.05,404.85L175.30,400.80L177.55,404.85Z"/><path d="M174.49,404.58L176.74,400.53L178.99,404.58Z"/><path d="M175.93,405.46L178.18,401.41L180.43,405.46Z"/><path d="M177.37,405.41L179.62,401.36L181.87,405.41Z"/><path d="M178.81,405.95L181.06,401.90L183.31,405.95Z"/><path d="M180.25,406.22L182.50,402.17L184.75,406.22Z"/><path d="M181.69,406.78L183.94,402.73L186.19,406.78Z"/><path d="M183.13,406.69L185.38,402.64L187.63,406.69Z"/><path d="M184.57,406.31L186.82,402.26L189.07,406.31Z"/><path d="M186.01,406.67L188.26,402.62L190.51,406.67Z"/><path d="M187.45,407.51L189.70,403.46L191.95,407.51Z"/><path d="M188.89,407.42L191.14,403.37L193.39,407.42Z"/><path d="M190.33,408.10L192.58,404.05L194.83,408.10Z"/><path d="M191.77,408.18L194.02,404.13L196.27,408.18Z"/><path d="M193.21,408.21L195.46,404.16L197.71,408.21Z"/><path d="M194.65,409.09L196.90,405.04L199.15,409.09Z"/><path d="M196.09,408.85L198.34,404.80L200.59,408.85Z"/><path d="M197.53,408.78L199.78,404.73L202.03,408.78Z"/><path d="M198.97,410.31L201.22,406.26L203.47,410.31Z"/><path d="M200.41,409.42L202.66,405.37L204.91,409.42Z"/><path d="M201.85,410.45L204.10,406.40L206.35,410.45Z"/><path d="M203.29,410.70L205.54,406.65L207.79,410.70Z"/><path d="M204.73,410.62L206.98,406.57L209.23,410.62Z"/><path d="M206.17,410.22L208.42,406.17L210.67,410.22Z"/></g>
<polyline points="317.00,119.10 318.44,118.46 319.88,118.58 321.32,118.97 322.76,119.41 324.20,119.24 325.64,119.33 327.08,118.88 328.52,118.89 329.96,118.54 331.40,118.75 332.84,118.99 334.28,119.55 335.72,120.89 337.16,120.83 338.60,120.50 340.04,120.10 341.48,119.10 342.92,117.97 344.36,115.40 345.80,113.59 347.24,110.79 348.68,109.07 350.12,107.43 351.56,106.34 353.00,105.62 354.44,104.32 355.88,103.79 357.32,103.65 358.76,103.03 360.20,102.87 361.64,103.55 363.08,103.51 364.52,104.09 365.96,104.84 367.40,105.38 368.84,105.57 370.28,106.17 371.72,107.08 373.16,107.64 374.60,107.80 376.04,109.41 377.48,109.65 378.92,110.48 380.36,110.53 381.80,111.99 383.24,112.14 384.68,113.01 386.12,113.34 387.56,114.43 389.00,115.13 390.44,115.75 391.88,116.51 393.32,116.96 394.76,117.78 396.20,117.89 397.64,118.28 399.08,119.06 400.52,119.74 401.96,120.41 403.40,120.77 404.84,120.48 406.28,121.61 407.72,122.42 409.16,122.49 410.60,122.80 412.04,123.53 413.48,123.75 414.92,124.46 416.36,124.64 417.80,125.44 419.24,125.54 420.68,125.55 422.12,126.50 423.56,127.16 425.00,127.27 426.44,127.87 427.88,127.87 429.32,129.28 430.76,129.21 432.20,129.12 433.64,129.60 435.08,130.44 436.52,131.10 437.96,131.14 439.40,131.62 440.84,131.45 442.28,131.68 443.72,132.65 445.16,132.74 446.60,132.79 448.04,133.39 449.48,132.93 450.92,133.29 452.36,133.92 453.80,134.35 455.24,133.99 456.68,134.68 458.12,134.18 459.56,134.71 461.00,135.00" fill="none" stroke="#222" stroke-width="1.0" stroke-linejoin="round"/>
<g fill="#a0a0a0" stroke="#0a0a0a" stroke-width="0.75"><path d="M314.80,121.08L317.00,117.12L319.20,121.08Z"/><path d="M316.24,120.44L318.44,116.48L320.64,120.44Z"/><path d="M317.68,120.56L319.88,116.60L322.08,120.56Z"/><path d="M319.12,120.95L321.32,116.99L323.52,120.95Z"/><path d="M320.56,121.39L322.76,117.43L324.96,121.39Z"/><path d="M322.00,121.22L324.20,117.26L326.40,121.22Z"/><path d="M323.44,121.31L325.64,117.35L327.84,121.31Z"/><path d="M324.88,120.86L327.08,116.90L329.28,120.86Z"/><path d="M326.32,120.87L328.52,116.91L330.72,120.87Z"/><path d="M327.76,120.52L329.96,116.56L332.16,120.52Z"/><path d="M329.20,120.73L331.40,116.77L333.60,120.73Z"/><path d="M330.64,120.97L332.84,117.01L335.04,120.97Z"/><path d="M332.08,121.53L334.28,117.57L336.48,121.53Z"/><path d="M333.52,122.87L335.72,118.91L337.92,122.87Z"/><path d="M334.96,122.81L337.16,118.85L339.36,122.81Z"/><path d="M336.40,122.48L338.60,118.52L340.80,122.48Z"/><path d="M337.84,122.08L340.04,118.12L342.24,122.08Z"/><path d="M339.28,121.08L341.48,117.12L343.68,121.08Z"/><path d="M340.72,119.95L342.92,115.99L345.12,119.95Z"/><path d="M342.16,117.38L344.36,113.42L346.56,117.38Z"/><path d="M343.60,115.57L345.80,111.61L348.00,115.57Z"/><path d="M345.04,112.77L347.24,108.81L349.44,112.77Z"/><path d="M346.48,111.05L348.68,107.09L350.88,111.05Z"/><path d="M347.92,109.41L350.12,105.45L352.32,109.41Z"/><path d="M349.36,108.32L351.56,104.36L353.76,108.32Z"/><path d="M350.80,107.60L353.00,103.64L355.20,107.60Z"/><path d="M352.24,106.30L354.44,102.34L356.64,106.30Z"/><path d="M353.68,105.77L355.88,101.81L358.08,105.77Z"/><path d="M355.12,105.63L357.32,101.67L359.52,105.63Z"/><path d="M356.56,105.01L358.76,101.05L360.96,105.01Z"/><path d="M358.00,104.85L360.20,100.89L362.40,104.85Z"/><path d="M359.44,105.53L361.64,101.57L363.84,105.53Z"/><path d="M360.88,105.49L363.08,101.53L365.28,105.49Z"/><path d="M362.32,106.07L364.52,102.11L366.72,106.07Z"/><path d="M363.76,106.82L365.96,102.86L368.16,106.82Z"/><path d="M365.20,107.36L367.40,103.40L369.60,107.36Z"/><path d="M366.64,107.55L368.84,103.59L371.04,107.55Z"/><path d="M368.08,108.15L370.28,104.19L372.48,108.15Z"/><path d="M369.52,109.06L371.72,105.10L373.92,109.06Z"/><path d="M370.96,109.62L373.16,105.66L375.36,109.62Z"/><path d="M372.40,109.78L374.60,105.82L376.80,109.78Z"/><path d="M373.84,111.39L376.04,107.43L378.24,111.39Z"/><path d="M375.28,111.63L377.48,107.67L379.68,111.63Z"/><path d="M376.72,112.46L378.92,108.50L381.12,112.46Z"/><path d="M378.16,112.51L380.36,108.55L382.56,112.51Z"/><path d="M379.60,113.97L381.80,110.01L384.00,113.97Z"/><path d="M381.04,114.12L383.24,110.16L385.44,114.12Z"/><path d="M382.48,114.99L384.68,111.03L386.88,114.99Z"/><path d="M383.92,115.32L386.12,111.36L388.32,115.32Z"/><path d="M385.36,116.41L387.56,112.45L389.76,116.41Z"/><path d="M386.80,117.11L389.00,113.15L391.20,117.11Z"/><path d="M388.24,117.73L390.44,113.77L392.64,117.73Z"/><path d="M389.68,118.49L391.88,114.53L394.08,118.49Z"/><path d="M391.12,118.94L393.32,114.98L395.52,118.94Z"/><path d="M392.56,119.76L394.76,115.80L396.96,119.76Z"/><path d="M394.00,119.87L396.20,115.91L398.40,119.87Z"/><path d="M395.44,120.26L397.64,116.30L399.84,120.26Z"/><path d="M396.88,121.04L399.08,117.08L401.28,121.04Z"/><path d="M398.32,121.72L400.52,117.76L402.72,121.72Z"/><path d="M399.76,122.39L401.96,118.43L404.16,122.39Z"/><path d="M401.20,122.75L403.40,118.79L405.60,122.75Z"/><path d="M402.64,122.46L404.84,118.50L407.04,122.46Z"/><path d="M404.08,123.59L406.28,119.63L408.48,123.59Z"/><path d="M405.52,124.40L407.72,120.44L409.92,124.40Z"/><path d="M406.96,124.47L409.16,120.51L411.36,124.47Z"/><path d="M408.40,124.78L410.60,120.82L412.80,124.78Z"/><path d="M409.84,125.51L412.04,121.55L414.24,125.51Z"/><path d="M411.28,125.73L413.48,121.77L415.68,125.73Z"/><path d="M412.72,126.44L414.92,122.48L417.12,126.44Z"/><path d="M414.16,126.62L416.36,122.66L418.56,126.62Z"/><path d="M415.60,127.42L417.80,123.46L420.00,127.42Z"/><path d="M417.04,127.52L419.24,123.56L421.44,127.52Z"/><path d="M418.48,127.53L420.68,123.57L422.88,127.53Z"/><path d="M419.92,128.48L422.12,124.52L424.32,128.48Z"/><path d="M421.36,129.14L423.56,125.18L425.76,129.14Z"/><path d="M422.80,129.25L425.00,125.29L427.20,129.25Z"/><path d="M424.24,129.85L426.44,125.89L428.64,129.85Z"/><path d="M425.68,129.85L427.88,125.89L430.08,129.85Z"/><path d="M427.12,131.26L429.32,127.30L431.52,131.26Z"/><path d="M428.56,131.19L430.76,127.23L432.96,131.19Z"/><path d="M430.00,131.10L432.20,127.14L434.40,131.10Z"/><path d="M431.44,131.58L433.64,127.62L435.84,131.58Z"/><path d="M432.88,132.42L435.08,128.46L437.28,132.42Z"/><path d="M434.32,133.08L436.52,129.12L438.72,133.08Z"/><path d="M435.76,133.12L437.96,129.16L440.16,133.12Z"/><path d="M437.20,133.60L439.40,129.64L441.60,133.60Z"/><path d="M438.64,133.43L440.84,129.47L443.04,133.43Z"/><path d="M440.08,133.66L442.28,129.70L444.48,133.66Z"/><path d="M441.52,134.63L443.72,130.67L445.92,134.63Z"/><path d="M442.96,134.72L445.16,130.76L447.36,134.72Z"/><path d="M444.40,134.77L446.60,130.81L448.80,134.77Z"/><path d="M445.84,135.37L448.04,131.41L450.24,135.37Z"/><path d="M447.28,134.91L449.48,130.95L451.68,134.91Z"/><path d="M448.72,135.27L450.92,131.31L453.12,135.27Z"/><path d="M450.16,135.90L452.36,131.94L454.56,135.90Z"/><path d="M451.60,136.33L453.80,132.37L456.00,136.33Z"/><path d="M453.04,135.97L455.24,132.01L457.44,135.97Z"/><path d="M454.48,136.66L456.68,132.70L458.88,136.66Z"/><path d="M455.92,136.16L458.12,132.20L460.32,136.16Z"/><path d="M457.36,136.69L459.56,132.73L461.76,136.69Z"/><path d="M458.80,136.98L461.00,133.02L463.20,136.98Z"/></g>
<polyline points="317.40,254.48 318.10,254.85 318.80,254.99 319.50,254.77 320.20,254.79 320.90,255.08 321.60,254.55 322.30,254.50 323.00,254.67 323.70,254.56 324.40,255.07 325.10,254.87 325.80,254.65 326.50,254.73 327.20,255.45 327.90,254.77 328.60,254.77 329.30,255.00 330.00,255.09 330.70,255.03 331.40,255.03 332.10,255.34 332.80,256.06 333.50,256.29 334.20,256.72 334.90,258.03 335.60,257.97 336.30,257.67 337.00,257.57 337.70,257.57 338.40,257.29 339.10,257.06 339.80,257.30 340.50,256.84 341.20,257.11 341.90,256.65 342.60,256.82 343.30,256.71 344.00,257.00 344.70,256.33 345.40,256.19 346.10,256.30 346.80,256.16 347.50,256.22 348.20,256.37 348.90,256.39 349.60,256.53 350.30,256.00 351.00,256.63 351.70,256.45 352.40,255.97 353.10,255.53 353.80,255.96 354.50,255.98 355.20,255.50 355.90,255.96 356.60,255.89 357.30,255.77 358.00,256.04 358.70,256.10 359.40,255.79 360.10,255.92 360.80,255.74 361.50,255.70 362.20,255.86 362.90,255.94 363.60,255.71 364.30,255.37 365.00,255.92 365.70,255.48 366.40,255.82 367.10,256.16 367.80,255.80 368.50,255.56 369.20,255.51 369.90,256.03 370.60,255.80 371.30,255.91 372.00,255.99 372.70,255.79 373.40,255.74 374.10,255.61 374.80,255.18 375.50,255.50 376.20,255.79 376.90,255.76 377.60,255.88 378.30,255.77 379.00,255.83 379.70,255.96 380.40,255.62 381.10,255.74 381.80,255.48 382.50,255.99 383.20,255.81 383.90,255.90 384.60,256.11 385.30,256.02 386.00,255.79 386.70,255.96 387.40,255.51 388.10,255.89 388.80,255.83 389.50,255.48 390.20,256.07 390.90,255.66 391.60,255.94 392.30,255.72 393.00,256.00 393.70,256.06 394.40,255.63 395.10,255.49 395.80,255.77 396.50,255.97 397.20,255.73 397.90,255.68 398.60,255.90 399.30,255.25 400.00,255.67 400.70,255.53 401.40,255.86 402.10,255.66 402.80,255.59 403.50,255.74 404.20,255.52 404.90,255.81 405.60,255.68 406.30,255.75 407.00,255.68 407.70,256.01 408.40,255.81 409.10,255.94 409.80,255.93 410.50,255.67 411.20,255.95 411.90,255.91 412.60,255.90 413.30,255.76 414.00,255.76 414.70,256.01 415.40,256.29 416.10,255.69 416.80,255.96 417.50,255.79 418.20,256.02 418.90,255.95 419.60,256.08 420.30,255.31 421.00,255.75 421.70,255.67 422.40,255.85 423.10,255.73 423.80,255.75 424.50,256.02 425.20,256.26 425.90,255.32 426.60,255.83 427.30,255.95 428.00,255.89 428.70,255.83 429.40,255.63 430.10,255.71 430.80,256.05 431.50,256.13 432.20,255.94 432.90,255.76 433.60,255.96 434.30,255.90 435.00,256.06 435.70,255.99 436.40,255.85 437.10,256.02 437.80,255.75 438.50,256.16 439.20,256.24 439.90,255.77 440.60,256.10 441.30,255.83 442.00,256.25 442.70,256.22 443.40,256.00 444.10,256.25 444.80,255.98 445.50,255.94 446.20,255.96 446.90,256.06 447.60,256.03 448.30,256.13 449.00,255.98 449.70,256.27 450.40,256.33 451.10,256.03 451.80,255.85 452.50,256.29 453.20,256.38 453.90,256.13 454.60,255.91 455.30,256.23 456.00,256.49 456.70,255.82 457.40,256.29" fill="none" stroke="#4a4a4a" stroke-width="4.4" stroke-linejoin="round"/>
<polyline points="317.40,254.48 318.10,254.85 318.80,254.99 319.50,254.77 320.20,254.79 320.90,255.08 321.60,254.55 322.30,254.50 323.00,254.67 323.70,254.56 324.40,255.07 325.10,254.87 325.80,254.65 326.50,254.73 327.20,255.45 327.90,254.77 328.60,254.77 329.30,255.00 330.00,255.09 330.70,255.03 331.40,255.03 332.10,255.34 332.80,256.06 333.50,256.29 334.20,256.72 334.90,258.03 335.60,257.97 336.30,257.67 337.00,257.57 337.70,257.57 338.40,257.29 339.10,257.06 339.80,257.30 340.50,256.84 341.20,257.11 341.90,256.65 342.60,256.82 343.30,256.71 344.00,257.00 344.70,256.33 345.40,256.19 346.10,256.30 346.80,256.16 347.50,256.22 348.20,256.37 348.90,256.39 349.60,256.53 350.30,256.00 351.00,256.63 351.70,256.45 352.40,255.97 353.10,255.53 353.80,255.96 354.50,255.98 355.20,255.50 355.90,255.96 356.60,255.89 357.30,255.77 358.00,256.04 358.70,256.10 359.40,255.79 360.10,255.92 360.80,255.74 361.50,255.70 362.20,255.86 362.90,255.94 363.60,255.71 364.30,255.37 365.00,255.92 365.70,255.48 366.40,255.82 367.10,256.16 367.80,255.80 368.50,255.56 369.20,255.51 369.90,256.03 370.60,255.80 371.30,255.91 372.00,255.99 372.70,255.79 373.40,255.74 374.10,255.61 374.80,255.18 375.50,255.50 376.20,255.79 376.90,255.76 377.60,255.88 378.30,255.77 379.00,255.83 379.70,255.96 380.40,255.62 381.10,255.74 381.80,255.48 382.50,255.99 383.20,255.81 383.90,255.90 384.60,256.11 385.30,256.02 386.00,255.79 386.70,255.96 387.40,255.51 388.10,255.89 388.80,255.83 389.50,255.48 390.20,256.07 390.90,255.66 391.60,255.94 392.30,255.72 393.00,256.00 393.70,256.06 394.40,255.63 395.10,255.49 395.80,255.77 396.50,255.97 397.20,255.73 397.90,255.68 398.60,255.90 399.30,255.25 400.00,255.67 400.70,255.53 401.40,255.86 402.10,255.66 402.80,255.59 403.50,255.74 404.20,255.52 404.90,255.81 405.60,255.68 406.30,255.75 407.00,255.68 407.70,256.01 408.40,255.81 409.10,255.94 409.80,255.93 410.50,255.67 411.20,255.95 411.90,255.91 412.60,255.90 413.30,255.76 414.00,255.76 414.70,256.01 415.40,256.29 416.10,255.69 416.80,255.96 417.50,255.79 418.20,256.02 418.90,255.95 419.60,256.08 420.30,255.31 421.00,255.75 421.70,255.67 422.40,255.85 423.10,255.73 423.80,255.75 424.50,256.02 425.20,256.26 425.90,255.32 426.60,255.83 427.30,255.95 428.00,255.89 428.70,255.83 429.40,255.63 430.10,255.71 430.80,256.05 431.50,256.13 432.20,255.94 432.90,255.76 433.60,255.96 434.30,255.90 435.00,256.06 435.70,255.99 436.40,255.85 437.10,256.02 437.80,255.75 438.50,256.16 439.20,256.24 439.90,255.77 440.60,256.10 441.30,255.83 442.00,256.25 442.70,256.22 443.40,256.00 444.10,256.25 444.80,255.98 445.50,255.94 446.20,255.96 446.90,256.06 447.60,256.03 448.30,256.13 449.00,255.98 449.70,256.27 450.40,256.33 451.10,256.03 451.80,255.85 452.50,256.29 453.20,256.38 453.90,256.13 454.60,255.91 455.30,256.23 456.00,256.49 456.70,255.82 457.40,256.29" fill="none" stroke="#b0b0b0" stroke-width="2.2" stroke-linejoin="round"/>
<g fill="none" stroke="#707070" stroke-width="0.5"><rect x="318.30" y="252.99" width="3.40" height="3.40"/><rect x="321.20" y="252.80" width="3.40" height="3.40"/><rect x="324.10" y="253.30" width="3.40" height="3.40"/><rect x="327.00" y="252.77" width="3.40" height="3.40"/><rect x="329.90" y="253.72" width="3.40" height="3.40"/><rect x="332.80" y="256.13" width="3.40" height="3.40"/><rect x="335.70" y="255.93" width="3.40" height="3.40"/><rect x="338.60" y="255.15" width="3.40" height="3.40"/><rect x="341.50" y="254.43" width="3.40" height="3.40"/><rect x="344.40" y="254.28" width="3.40" height="3.40"/><rect x="347.30" y="253.89" width="3.40" height="3.40"/><rect x="350.20" y="254.90" width="3.40" height="3.40"/><rect x="353.10" y="254.18" width="3.40" height="3.40"/><rect x="356.00" y="253.85" width="3.40" height="3.40"/><rect x="358.90" y="253.72" width="3.40" height="3.40"/><rect x="361.80" y="253.75" width="3.40" height="3.40"/><rect x="364.70" y="253.98" width="3.40" height="3.40"/><rect x="367.60" y="253.65" width="3.40" height="3.40"/><rect x="370.50" y="254.69" width="3.40" height="3.40"/><rect x="373.40" y="253.84" width="3.40" height="3.40"/><rect x="376.30" y="253.83" width="3.40" height="3.40"/><rect x="379.20" y="254.21" width="3.40" height="3.40"/><rect x="382.10" y="254.61" width="3.40" height="3.40"/><rect x="385.00" y="254.56" width="3.40" height="3.40"/><rect x="387.90" y="253.93" width="3.40" height="3.40"/><rect x="390.80" y="254.19" width="3.40" height="3.40"/><rect x="393.70" y="254.15" width="3.40" height="3.40"/><rect x="396.60" y="254.29" width="3.40" height="3.40"/><rect x="399.50" y="254.19" width="3.40" height="3.40"/><rect x="402.40" y="253.78" width="3.40" height="3.40"/><rect x="405.30" y="253.68" width="3.40" height="3.40"/><rect x="408.20" y="254.19" width="3.40" height="3.40"/><rect x="411.10" y="253.73" width="3.40" height="3.40"/><rect x="414.00" y="254.63" width="3.40" height="3.40"/><rect x="416.90" y="254.18" width="3.40" height="3.40"/><rect x="419.80" y="253.81" width="3.40" height="3.40"/><rect x="422.70" y="254.07" width="3.40" height="3.40"/><rect x="425.60" y="254.01" width="3.40" height="3.40"/><rect x="428.50" y="254.16" width="3.40" height="3.40"/><rect x="431.40" y="254.56" width="3.40" height="3.40"/><rect x="434.30" y="253.76" width="3.40" height="3.40"/><rect x="437.20" y="253.64" width="3.40" height="3.40"/><rect x="440.10" y="254.45" width="3.40" height="3.40"/><rect x="443.00" y="254.30" width="3.40" height="3.40"/><rect x="445.90" y="254.45" width="3.40" height="3.40"/><rect x="448.80" y="254.58" width="3.40" height="3.40"/><rect x="451.70" y="254.39" width="3.40" height="3.40"/><rect x="454.60" y="254.77" width="3.40" height="3.40"/></g>
<g fill="#fff" stroke="#555" stroke-width="0.7"><rect x="332.20" y="254.00" width="3.60" height="3.60"/><rect x="333.00" y="257.80" width="3.60" height="3.60"/><rect x="456.20" y="254.70" width="3.60" height="3.60"/></g>
<polyline points="317.00,388.79 318.90,390.23 320.80,390.99 322.70,389.87 324.60,391.56 326.50,392.86 328.40,390.24 330.30,390.75 332.20,392.30 334.10,391.03 336.00,389.93 337.90,390.81 339.80,388.35 341.70,389.39 343.60,389.44 345.50,390.09 347.40,390.71 349.30,392.36 351.20,389.25 353.10,387.32 355.00,388.54 356.90,385.84 358.80,388.64 360.70,390.55 362.60,388.44 364.50,388.57 366.40,390.80 368.30,389.76 370.20,388.77 372.10,389.80 374.00,388.61 375.90,388.74 377.80,389.59 379.70,389.65 381.60,387.68 383.50,387.86 385.40,388.07 387.30,387.03 389.20,389.78 391.10,391.82 393.00,391.14 394.90,390.33 396.80,390.26 398.70,389.38 400.60,391.05 402.50,391.33 404.40,388.85 406.30,389.71 408.20,389.54 410.10,389.01 412.00,390.00 413.90,389.60 415.80,387.82 417.70,389.93 419.60,389.92 421.50,389.19 423.40,389.34 425.30,389.29 427.20,389.37 429.10,389.15 431.00,389.96 432.90,387.90 434.80,389.41 436.70,389.87 438.60,389.81 440.50,389.91 442.40,391.12 444.30,390.16 446.20,389.60 448.10,390.14 450.00,388.85 451.90,388.41 453.80,388.28 455.70,387.88 457.60,388.55 459.50,390.06" fill="none" stroke="#222" stroke-width="1.0" stroke-linejoin="round"/>
<g fill="none" stroke="#111" stroke-width="0.95"><circle cx="317.00" cy="388.79" r="2.00"/><circle cx="318.90" cy="390.23" r="2.00"/><circle cx="320.80" cy="390.99" r="2.00"/><circle cx="322.70" cy="389.87" r="2.00"/><circle cx="324.60" cy="391.56" r="2.00"/><circle cx="326.50" cy="392.86" r="2.00"/><circle cx="328.40" cy="390.24" r="2.00"/><circle cx="330.30" cy="390.75" r="2.00"/><circle cx="332.20" cy="392.30" r="2.00"/><circle cx="334.10" cy="391.03" r="2.00"/><circle cx="336.00" cy="389.93" r="2.00"/><circle cx="337.90" cy="390.81" r="2.00"/><circle cx="339.80" cy="388.35" r="2.00"/><circle cx="341.70" cy="389.39" r="2.00"/><circle cx="343.60" cy="389.44" r="2.00"/><circle cx="345.50" cy="390.09" r="2.00"/><circle cx="347.40" cy="390.71" r="2.00"/><circle cx="349.30" cy="392.36" r="2.00"/><circle cx="351.20" cy="389.25" r="2.00"/><circle cx="353.10" cy="387.32" r="2.00"/><circle cx="355.00" cy="388.54" r="2.00"/><circle cx="356.90" cy="385.84" r="2.00"/><circle cx="358.80" cy="388.64" r="2.00"/><circle cx="360.70" cy="390.55" r="2.00"/><circle cx="362.60" cy="388.44" r="2.00"/><circle cx="364.50" cy="388.57" r="2.00"/><circle cx="366.40" cy="390.80" r="2.00"/><circle cx="368.30" cy="389.76" r="2.00"/><circle cx="370.20" cy="388.77" r="2.00"/><circle cx="372.10" cy="389.80" r="2.00"/><circle cx="374.00" cy="388.61" r="2.00"/><circle cx="375.90" cy="388.74" r="2.00"/><circle cx="377.80" cy="389.59" r="2.00"/><circle cx="379.70" cy="389.65" r="2.00"/><circle cx="381.60" cy="387.68" r="2.00"/><circle cx="383.50" cy="387.86" r="2.00"/><circle cx="385.40" cy="388.07" r="2.00"/><circle cx="387.30" cy="387.03" r="2.00"/><circle cx="389.20" cy="389.78" r="2.00"/><circle cx="391.10" cy="391.82" r="2.00"/><circle cx="393.00" cy="391.14" r="2.00"/><circle cx="394.90" cy="390.33" r="2.00"/><circle cx="396.80" cy="390.26" r="2.00"/><circle cx="398.70" cy="389.38" r="2.00"/><circle cx="400.60" cy="391.05" r="2.00"/><circle cx="402.50" cy="391.33" r="2.00"/><circle cx="404.40" cy="388.85" r="2.00"/><circle cx="406.30" cy="389.71" r="2.00"/><circle cx="408.20" cy="389.54" r="2.00"/><circle cx="410.10" cy="389.01" r="2.00"/><circle cx="412.00" cy="390.00" r="2.00"/><circle cx="413.90" cy="389.60" r="2.00"/><circle cx="415.80" cy="387.82" r="2.00"/><circle cx="417.70" cy="389.93" r="2.00"/><circle cx="419.60" cy="389.92" r="2.00"/><circle cx="421.50" cy="389.19" r="2.00"/><circle cx="423.40" cy="389.34" r="2.00"/><circle cx="425.30" cy="389.29" r="2.00"/><circle cx="427.20" cy="389.37" r="2.00"/><circle cx="429.10" cy="389.15" r="2.00"/><circle cx="431.00" cy="389.96" r="2.00"/><circle cx="432.90" cy="387.90" r="2.00"/><circle cx="434.80" cy="389.41" r="2.00"/><circle cx="436.70" cy="389.87" r="2.00"/><circle cx="438.60" cy="389.81" r="2.00"/><circle cx="440.50" cy="389.91" r="2.00"/><circle cx="442.40" cy="391.12" r="2.00"/><circle cx="444.30" cy="390.16" r="2.00"/><circle cx="446.20" cy="389.60" r="2.00"/><circle cx="448.10" cy="390.14" r="2.00"/><circle cx="450.00" cy="388.85" r="2.00"/><circle cx="451.90" cy="388.41" r="2.00"/><circle cx="453.80" cy="388.28" r="2.00"/><circle cx="455.70" cy="387.88" r="2.00"/><circle cx="457.60" cy="388.55" r="2.00"/><circle cx="459.50" cy="390.06" r="2.00"/></g>
<line x1="163.90" y1="69.60" x2="172.20" y2="69.60" stroke="#222" stroke-width="1.0" stroke-linecap="butt"/>
<g fill="#000" stroke="none" stroke-width="0"><rect x="166.15" y="67.70" width="3.80" height="3.80"/></g>
<text font-family="Liberation Sans" font-weight="bold" font-size="12.99" transform="translate(177.49,74.07) scale(0.965,1)" fill="#000" >CLL1</text>
<line x1="157.60" y1="201.00" x2="166.20" y2="201.00" stroke="#222" stroke-width="1.0" stroke-linecap="butt"/>
<g fill="#000" stroke="none" stroke-width="0"><circle cx="161.90" cy="201.00" r="2.00"/></g>
<text font-family="Liberation Sans" font-weight="bold" font-size="12.57" transform="translate(170.67,205.68) scale(1.019,1)" fill="#000" >CLL2</text>
<line x1="151.50" y1="345.40" x2="160.00" y2="345.40" stroke="#222" stroke-width="1.0" stroke-linecap="butt"/>
<g fill="#000" stroke="none" stroke-width="0"><path d="M153.95,347.02L155.75,343.78L157.55,347.02Z"/></g>
<text font-family="Liberation Sans" font-weight="bold" font-size="12.69" transform="translate(164.85,349.86) scale(1.051,1)" fill="#000" >CLL3</text>
<line x1="416.00" y1="67.30" x2="424.70" y2="67.30" stroke="#222" stroke-width="1.0" stroke-linecap="butt"/>
<g fill="#fff" stroke="#222" stroke-width="0.8"><path d="M418.35,69.10L420.35,65.50L422.35,69.10Z"/></g>
<text font-family="Liberation Sans" font-weight="bold" font-size="12.57" transform="translate(429.47,71.78) scale(1.034,1)" fill="#000" >CLL4</text>
<line x1="410.00" y1="212.60" x2="418.50" y2="212.60" stroke="#707070" stroke-width="1.0" stroke-linecap="butt"/>
<g fill="#fff" stroke="#707070" stroke-width="0.9"><rect x="412.15" y="210.50" width="4.20" height="4.20"/></g>
<text font-family="Liberation Sans" font-weight="bold" font-size="12.99" transform="translate(422.87,217.07) scale(0.988,1)" fill="#000" >CLL5</text>
<line x1="423.50" y1="337.20" x2="431.80" y2="337.20" stroke="#222" stroke-width="1.0" stroke-linecap="butt"/>
<g fill="#fff" stroke="#333" stroke-width="0.8"><circle cx="427.65" cy="337.20" r="2.00"/></g>
<text font-family="Liberation Sans" font-weight="bold" font-size="12.99" transform="translate(437.17,341.67) scale(1.001,1)" fill="#000" >CLL6</text>
<rect x="79.00" y="522.50" width="59.10" height="89.50" fill="#000"/>
<rect x="165.10" y="606.00" width="58.90" height="6.00" fill="#000"/>
<line x1="65.50" y1="498.00" x2="65.50" y2="612.70" stroke="#111" stroke-width="1.4" stroke-linecap="butt"/>
<line x1="64.80" y1="611.80" x2="237.80" y2="611.80" stroke="#111" stroke-width="1.6" stroke-linecap="butt"/>
<line x1="62.50" y1="612.00" x2="65.50" y2="612.00" stroke="#111" stroke-width="1.4" stroke-linecap="butt"/>
<text font-family="Liberation Sans" font-weight="bold" font-size="14.30" transform="translate(53.04,617.62) scale(1.080,1)">0</text>
<line x1="62.50" y1="583.50" x2="65.50" y2="583.50" stroke="#111" stroke-width="1.4" stroke-linecap="butt"/>
<text font-family="Liberation Sans" font-weight="bold" font-size="14.30" transform="translate(44.46,589.12) scale(1.080,1)">10</text>
<line x1="62.50" y1="555.00" x2="65.50" y2="555.00" stroke="#111" stroke-width="1.4" stroke-linecap="butt"/>
<text font-family="Liberation Sans" font-weight="bold" font-size="14.30" transform="translate(44.46,560.62) scale(1.080,1)">20</text>
<line x1="62.50" y1="526.50" x2="65.50" y2="526.50" stroke="#111" stroke-width="1.4" stroke-linecap="butt"/>
<text font-family="Liberation Sans" font-weight="bold" font-size="14.30" transform="translate(44.46,532.11) scale(1.080,1)">30</text>
<line x1="62.50" y1="498.00" x2="65.50" y2="498.00" stroke="#111" stroke-width="1.4" stroke-linecap="butt"/>
<text font-family="Liberation Sans" font-weight="bold" font-size="14.30" transform="translate(44.46,503.62) scale(1.080,1)">40</text>
<text font-family="Liberation Sans" font-weight="bold" font-size="14.55" transform="translate(76.43,629.06) scale(1.087,1)" fill="#000" >ZAP-70+</text>
<text font-family="Liberation Sans" font-weight="bold" font-size="14.55" transform="translate(164.03,629.06) scale(1.079,1)" fill="#000" >ZAP-70-</text>
<text font-family="Liberation Sans" font-weight="bold" font-size="16.13" transform="translate(35.20,623.58) rotate(-90) scale(0.996,1)">Max&#160;&#160;Fluorescence</text>
<line x1="108.40" y1="522.50" x2="108.40" y2="511.70" stroke="#000" stroke-width="1.6" stroke-linecap="butt"/>
<line x1="93.50" y1="511.70" x2="123.50" y2="511.70" stroke="#000" stroke-width="1.6" stroke-linecap="butt"/>
<line x1="194.20" y1="606.00" x2="194.20" y2="584.00" stroke="#000" stroke-width="1.7" stroke-linecap="butt"/>
<line x1="179.70" y1="584.00" x2="209.40" y2="584.00" stroke="#000" stroke-width="1.8" stroke-linecap="butt"/>
<path d="M108.2,508.5 V501.8 H194.1 V508.3" fill="none" stroke="#000" stroke-width="1.6"/>
<text font-family="Liberation Sans" font-weight="bold" font-size="13.98" transform="translate(146.56,499.52) scale(1.003,1)" fill="#000" >*</text>
<text font-family="Liberation Sans" font-weight="bold" font-size="13.98" transform="translate(153.36,499.52) scale(1.003,1)" fill="#000" >*</text>
</svg>
</body></html>
